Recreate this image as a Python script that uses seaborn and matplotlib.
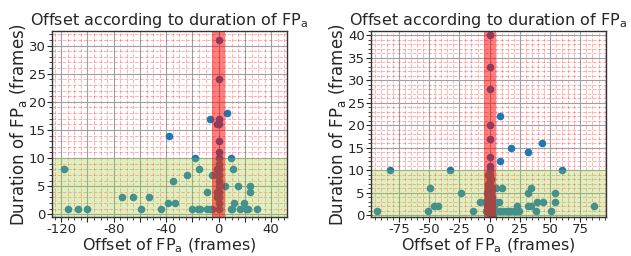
import matplotlib
matplotlib.use("Agg")
import matplotlib.pyplot as plt
import seaborn as sns
import pandas as pd
from matplotlib.ticker import MultipleLocator, FuncFormatter

# =========================
# Data (offset in frames, duration in frames)
# =========================
left_offset = [-118, -115, -107, -100, -74, -65, -59, -53, -44, -39, -38, -35, -33,
               -24, -20, -18, -16, -15, -14, -9, -9, -7, -7, -5, -5,
               0, 0, 0, 0, -1, 0, 0, 0, 0, 0, -1, 0, -1, 0, 0, 0, -1, 0, -1, 0, 0,
               6, 9, 11, 5, 9, 10, 12, 15, 16, 19, 21, 22, 24, 24, 29]
left_duration = [8, 1, 1, 1, 3, 3, 1, 3, 1, 2, 14, 6, 2,
                 7, 1, 10, 1, 8, 1, 4, 1, 17, 1, 7, 1,
                 31, 24, 17, 16, 16, 13, 11, 10, 9, 8, 8, 7, 7, 6, 5, 4, 4, 3, 3, 2, 1,
                 18, 10, 8, 5, 1, 1, 2, 5, 1, 2, 1, 1, 5, 4, 1]

right_offset = [-93, -82, -51, -49, -46, -43, -33, -24, -14, -8, -4,
                0, 0, 0, 0, 0, 0, 0,
                0, 0, 0, 0, 0, 0, 0, 0, 0, 0, 0,
                -1, -1, -1, -1, -1, -1, -1, -2, -2, -2, -3,
                1, 1, 1, 1, 1, 1, 2, 2, 2, 2, 3, 3, 3, 4, 4, 5,
                9, 9, 18, 32, 43, 60, 86,
                5, 10, 5, 8, 9, 11, 14, 15, 17, 20, 22, 24, 23,
                32, 34, 32, 34, 38, 39, 44, 51, 54, 54]
right_duration = [1, 10, 1, 6, 2, 2, 10, 5, 1, 3, 3,
                  40, 33, 28, 20, 17, 13, 11,
                  10, 9, 8, 7, 6, 5, 4, 3, 2, 1, 0,
                  9, 7, 6, 4, 3, 2, 1, 5, 2, 1, 1,
                  8, 6, 5, 3, 2, 1, 4, 3, 2, 1, 2, 1, 0, 1, 2, 1,
                  22, 12, 15, 14, 16, 10, 2,
                  6, 6, 3, 3, 1, 1, 1, 1, 1, 1, 1, 1, 2,
                  5, 6, 2, 2, 1, 3, 3, 1, 5, 3]

panels = [
    dict(x=left_offset, y=left_duration, xlim=(-127, 52), ylim=(-0.5, 32.6),
         xmajor=20, xlabel_every=40, rect=[0.0824, 0.152, 0.3724, 0.727]),
    dict(x=right_offset, y=right_duration, xlim=(-98, 96), ylim=(-0.4, 41.0),
         xmajor=25, xlabel_every=25, rect=[0.588, 0.152, 0.372, 0.727]),
]

# =========================
# Style
# =========================
sns.set_style("white")
plt.rcParams.update({
    "font.family": "DejaVu Sans",
    "axes.unicode_minus": False,
    "axes.edgecolor": "#333333",
    "axes.linewidth": 1.0,
    "xtick.bottom": True,
    "ytick.left": True,
    "xtick.direction": "out",
    "ytick.direction": "out",
})

fig = plt.figure(figsize=(6.31, 2.56), dpi=100)

for p in panels:
    ax = fig.add_axes(p["rect"])
    df = pd.DataFrame({"offset": p["x"], "duration": p["y"]})
    sns.scatterplot(data=df, x="offset", y="duration", ax=ax, color="#1f77b4",
                    s=30, linewidth=0, zorder=1)

    ax.axhspan(-5, 10, color="yellowgreen", alpha=0.3, lw=0, zorder=2)
    ax.axvspan(-5, 5, color="red", alpha=0.5, lw=0, zorder=2)

    ax.set_xlim(*p["xlim"])
    ax.set_ylim(*p["ylim"])

    every = p["xlabel_every"]
    ax.xaxis.set_major_locator(MultipleLocator(p["xmajor"]))
    ax.xaxis.set_major_formatter(FuncFormatter(
        lambda v, pos, e=every: f"{int(round(v))}" if round(v) % e == 0 else ""))
    ax.xaxis.set_minor_locator(MultipleLocator(5))
    ax.yaxis.set_major_locator(MultipleLocator(5))
    ax.yaxis.set_minor_locator(MultipleLocator(1))

    ax.set_axisbelow(True)
    ax.grid(True, which="major", color="#a0a0a0", linewidth=0.8)
    ax.grid(True, which="minor", color="red", alpha=0.3, linestyle="--", linewidth=0.7)
    ax.tick_params(which="major", length=3.5, width=0.8, labelsize=9.5, pad=1)
    ax.tick_params(which="minor", length=2, width=0.6)
    for s in ax.spines.values():
        s.set_visible(True)

    ax.set_title(r"Offset according to duration of FP$_\mathrm{a}$", fontsize=11.5, pad=4)
    ax.set_xlabel(r"Offset of FP$_\mathrm{a}$ (frames)", fontsize=11.5, labelpad=0)
    ax.set_ylabel(r"Duration of FP$_\mathrm{a}$ (frames)", fontsize=12, labelpad=0)

fig.savefig("out.png", dpi=100)
